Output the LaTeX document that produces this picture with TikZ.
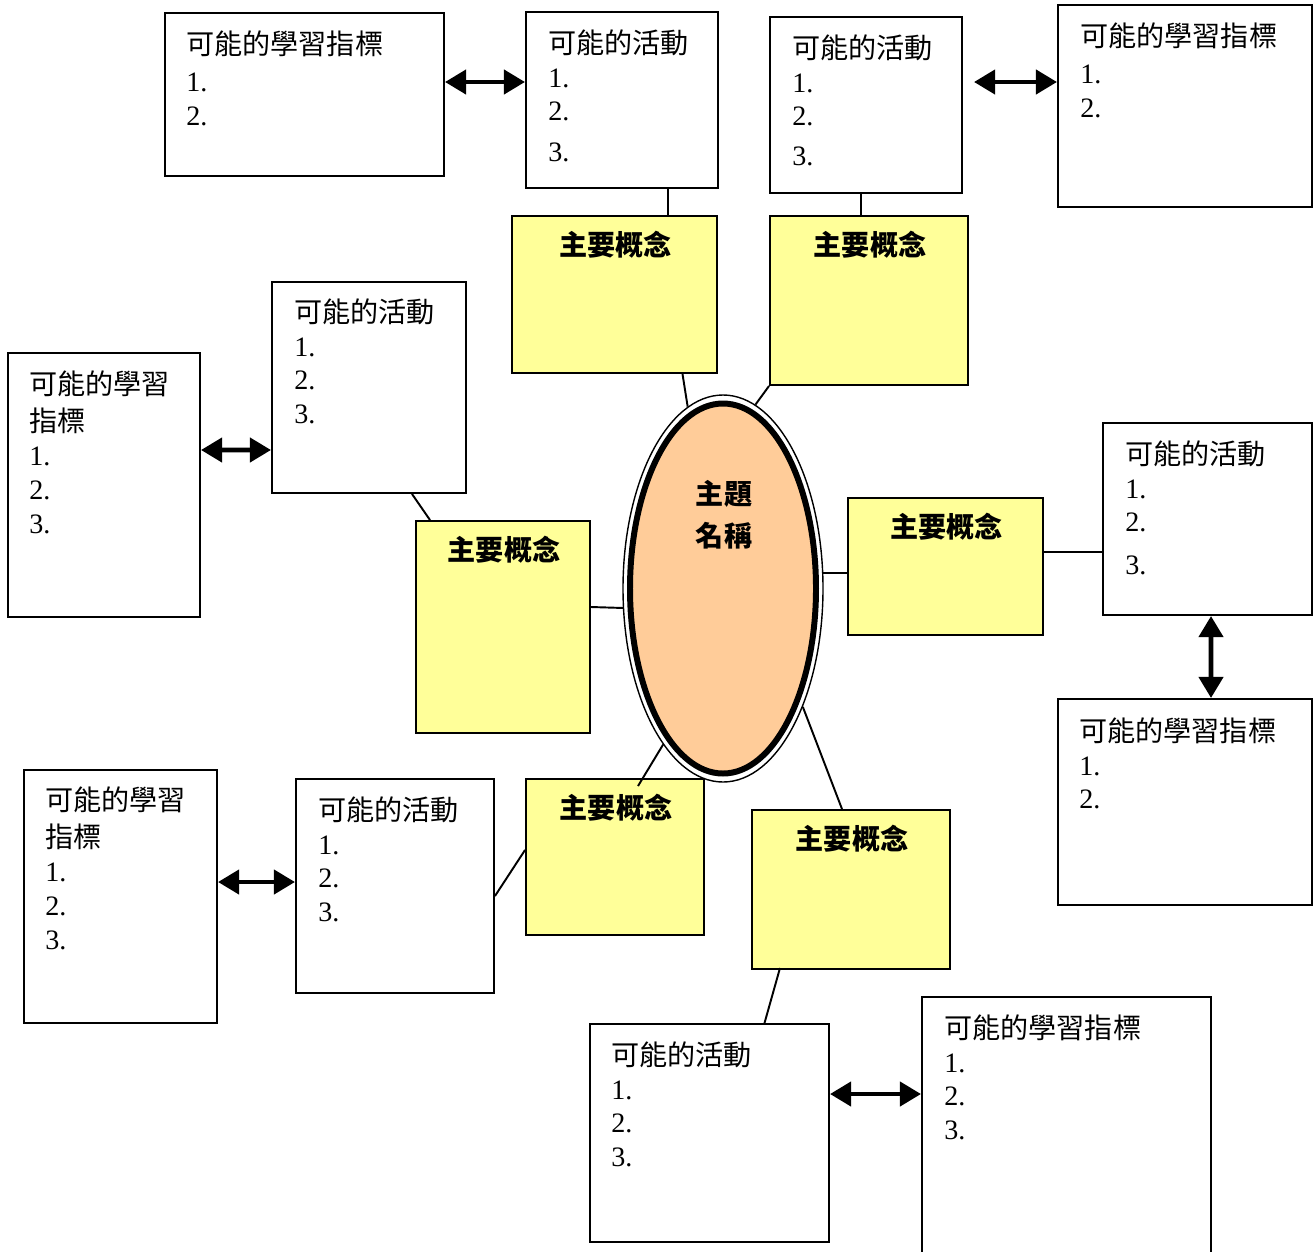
\documentclass[tikz,border=0pt]{standalone}
\usepackage{fontspec}
\setmainfont{Liberation Serif}
\newfontfamily\cjk{Noto Sans CJK TC}
\usetikzlibrary{
    arrows.meta,     % For the Triangle tips of the double arrows
    shapes.geometric % For the ellipse of the topic
}
\definecolor{conceptyellow}{RGB}{255, 255, 153}
\definecolor{topicpeach}{RGB}{255, 204, 153}
\newcommand{\px}{0.02cm} % one pixel of the layout

\begin{document}
\begin{tikzpicture}[
    x=\px, y=-\px, % Work in layout pixels, y pointing down
    % Styles
    box/.style={ % Common rectangle
        rectangle,
        draw,
        line width=1.1pt,
        inner sep=0pt
    },
    plain_box/.style={box, fill=white}, % activities and indicators
    concept_box/.style={box, fill=conceptyellow}, % main concepts
    list_text/.style={ % Text of the white boxes
        anchor=north west,
        inner sep=0pt,
        align=left,
        font=\fontsize{16}{19.3}\selectfont
    },
    concept_text/.style={ % Bold title of the yellow boxes
        inner sep=0pt,
        font=\cjk\bfseries\fontsize{16}{19.3}\selectfont
    },
    link/.style={line width=1.1pt},
    dbl_arrow/.style={
        line width=2.8pt,
        {Triangle[length=12pt,width=13.5pt]}-{Triangle[length=12pt,width=13.5pt]}
    }
]
\useasboundingbox (0,0) rectangle (1314,1251);
\clip (0,0) rectangle (1314,1251);

% --- Centre: topic ---
\node[ellipse, draw, line width=0.8pt, fill=white, inner sep=0pt,
      minimum width=200*\px, minimum height=387*\px] (topic) at (723,588.5) {};
\draw[line width=3.4pt, fill=topicpeach] (topic.center) ellipse [x radius=93, y radius=185];
\node[concept_text, align=center, font=\cjk\bfseries\fontsize{16}{24}\selectfont]
    (topic_txt) at ([shift={(1,-74)}]topic.center) {主題\\名稱};

% --- Main concepts ---
\node[concept_box, minimum width=205*\px, minimum height=157*\px] (concept1) at (614.5,294.5) {};
\node[concept_box, minimum width=198*\px, minimum height=169*\px] (concept2) at (869,300.5) {};
\node[concept_box, minimum width=174*\px, minimum height=212*\px] (concept3) at (503,627) {};
\node[concept_box, minimum width=195*\px, minimum height=137*\px] (concept4) at (945.5,566.5) {};
\node[concept_box, minimum width=178*\px, minimum height=156*\px] (concept5) at (615,857) {};
\node[concept_box, minimum width=198*\px, minimum height=159*\px] (concept6) at (851,889.5) {};
\foreach \c in {1,...,6} {
    \node[concept_text] (concept\c_txt) at ([shift={(1,30)}]concept\c.north) {主要概念};
}

% --- Possible activities ---
\node[plain_box, minimum width=192*\px, minimum height=176*\px] (act1) at (622,100) {};
\node[plain_box, minimum width=192*\px, minimum height=176*\px] (act2) at (866,105) {};
\node[plain_box, minimum width=194*\px, minimum height=211*\px] (act3) at (369,387.5) {};
\node[plain_box, minimum width=209*\px, minimum height=192*\px] (act4) at (1207.5,519) {};
\node[plain_box, minimum width=198*\px, minimum height=214*\px] (act5) at (395,886) {};
\node[plain_box, minimum width=239*\px, minimum height=218*\px] (act6) at (709.5,1133) {};
\node[list_text] (act1_txt) at ([shift={(23,18)}]act1.north west) {{\cjk 可能的活動}\\1.\\2.\\[4pt]3.};
\node[list_text] (act2_txt) at ([shift={(23,18)}]act2.north west) {{\cjk 可能的活動}\\1.\\2.\\[3pt]3.};
\node[list_text] (act3_txt) at ([shift={(23,17)}]act3.north west) {{\cjk 可能的活動}\\1.\\2.\\3.};
\node[list_text] (act4_txt) at ([shift={(23,18)}]act4.north west) {{\cjk 可能的活動}\\1.\\2.\\[5pt]3.};
\node[list_text] (act5_txt) at ([shift={(23,18)}]act5.north west) {{\cjk 可能的活動}\\1.\\2.\\3.};
\node[list_text] (act6_txt) at ([shift={(22,18)}]act6.north west) {{\cjk 可能的活動}\\1.\\2.\\3.};

% --- Possible learning indicators ---
\node[plain_box, minimum width=279*\px, minimum height=163*\px] (goal1) at (304.5,94.5) {};
\node[plain_box, minimum width=254*\px, minimum height=202*\px] (goal2) at (1185,106) {};
\node[plain_box, minimum width=192*\px, minimum height=264*\px] (goal3) at (104,485) {};
\node[plain_box, minimum width=254*\px, minimum height=206*\px] (goal4) at (1185,802) {};
\node[plain_box, minimum width=193*\px, minimum height=253*\px] (goal5) at (120.5,896.5) {};
\node[plain_box, minimum width=289*\px, minimum height=265*\px] (goal6) at (1066.5,1129.5) {};
\node[list_text] (goal1_txt) at ([shift={(22,18)}]goal1.north west) {{\cjk 可能的學習指標}\\[2pt]1.\\2.};
\node[list_text] (goal2_txt) at ([shift={(23,18)}]goal2.north west) {{\cjk 可能的學習指標}\\[2pt]1.\\2.};
\node[list_text] (goal3_txt) at ([shift={(22,18)}]goal3.north west) {{\cjk 可能的學習}\\[2pt]{\cjk 指標}\\1.\\2.\\3.};
\node[list_text] (goal4_txt) at ([shift={(22,19)}]goal4.north west) {{\cjk 可能的學習指標}\\1.\\2.};
\node[list_text] (goal5_txt) at ([shift={(22,17)}]goal5.north west) {{\cjk 可能的學習}\\[2pt]{\cjk 指標}\\1.\\2.\\3.};
\node[list_text] (goal6_txt) at ([shift={(23,18)}]goal6.north west) {{\cjk 可能的學習指標}\\1.\\2.\\3.};

% --- Links between topic, concepts and activities ---
\draw[link] ([shift={(68,0)}]concept1.south) -- (topic.101);
\draw[link] (concept2.south west) -- (topic.80);
\draw[link] ([shift={(0,-20)}]concept3.east) -- (topic.191);
\draw[link] (topic.9) -- (topic.9 -| concept4.west);
\draw[link] (topic.249) -- ([shift={(23,8)}]concept5.north);
\draw[link] (topic.304) -- ([shift={(-9,0)}]concept6.north);
\draw[link] ([shift={(46,0)}]act1.south) -- ([shift={(53.5,0)}]concept1.north);
\draw[link] ([shift={(-5,0)}]act2.south) -- ([shift={(-8,0)}]concept2.north);
\draw[link] ([shift={(43,0)}]act3.south) -- ([shift={(-73,0)}]concept3.north);
\draw[link] ([shift={(0,-14.5)}]concept4.east) -- ([shift={(0,33)}]act4.west);
\draw[link] ([shift={(0,10)}]act5.east) -- ([shift={(0,-7)}]concept5.west);
\draw[link] ([shift={(-71,-2)}]concept6.south) -- ([shift={(55,0)}]act6.north);

% --- Double arrows between activities and indicators ---
\draw[dbl_arrow] ([shift={(0,-12.5)}]goal1.east) -- ([shift={(0,-18)}]act1.west);
\draw[dbl_arrow] ([shift={(11,-23)}]act2.east) -- ([shift={(0,-24)}]goal2.west);
\draw[dbl_arrow] ([shift={(0,-35)}]goal3.east) -- ([shift={(0,62.5)}]act3.west);
\draw[dbl_arrow] ([shift={(3.5,0)}]act4.south) -- ([shift={(26,0)}]goal4.north);
\draw[dbl_arrow] ([shift={(0,-14.5)}]goal5.east) -- ([shift={(0,-4)}]act5.west);
\draw[dbl_arrow] ([shift={(0,-39)}]act6.east) -- ([shift={(0,-35.5)}]goal6.west);

\end{tikzpicture}
\end{document}
